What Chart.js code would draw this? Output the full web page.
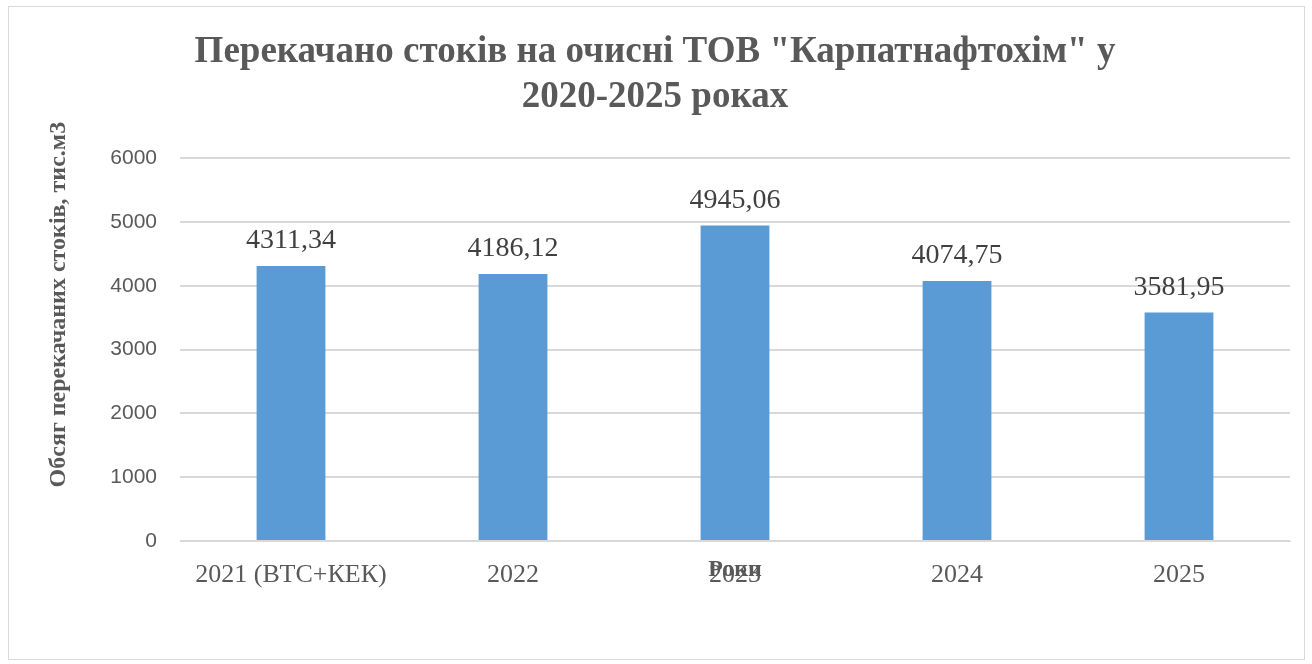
<!DOCTYPE html>
<html>
<head>
<meta charset="utf-8">
<script src="https://cdn.jsdelivr.net/npm/chart.js@4"></script>
<style>
    body { margin: 0; background: #fff; }
    #box { position: absolute; left: 8px; top: 6px; width: 1295px; height: 652px; border: 1px solid #d9d9d9; }
</style>
</head>
<body>
<div id="box"><canvas id="chart" width="1295" height="652"></canvas></div>
<script>
const categories = ['2021 (ВТС+КЕК)', '2022', '2023', '2024', '2025'];
const values = [4311.34, 4186.12, 4945.06, 4074.75, 3581.95];
const yTicks = [0, 1000, 2000, 3000, 4000, 5000, 6000];
const titleLines = ['Перекачано стоків на очисні ТОВ "Карпатнафтохім" у', '2020-2025 роках'];
const yTitle = 'Обсяг перекачаних стоків, тис.м3';
const xTitle = 'Роки';

// value labels + axis titles drawn by hand (excel places them oddly)
const extras = {
    id: 'extras',
    afterDatasetsDraw(chart) {
        const ctx = chart.ctx;
        const meta = chart.getDatasetMeta(0);
        ctx.save();
        ctx.fillStyle = '#404040';
        ctx.font = '28px "Liberation Serif"';
        ctx.textAlign = 'center';
        ctx.textBaseline = 'middle';
        meta.data.forEach(function(bar, i) {
            ctx.fillText(values[i].toFixed(2).replace('.', ','), bar.x, bar.y - 25);
        });
        ctx.restore();
    },
    afterDraw(chart) {
        const ctx = chart.ctx;
        const area = chart.chartArea;
        ctx.save();
        ctx.fillStyle = '#595959';
        ctx.font = 'bold 24px "Liberation Serif"';
        ctx.textAlign = 'center';
        ctx.textBaseline = 'middle';
        ctx.fillText(xTitle, (area.left + area.right) / 2, area.bottom + 29);
        ctx.translate(50, (area.top + area.bottom) / 2 - 45);
        ctx.rotate(-Math.PI / 2);
        ctx.fillText(yTitle, 0, 0);
        ctx.restore();
    }
};

new Chart(document.getElementById('chart'), {
    type: 'bar',
    data: {
        labels: categories,
        datasets: [{
            data: values,
            backgroundColor: '#5b9bd5',
            barPercentage: 0.31,
            categoryPercentage: 1
        }]
    },
    options: {
        responsive: false,
        animation: false,
        layout: { padding: { top: 23, left: 11, right: 14, bottom: 58 } },
        plugins: {
            legend: { display: false },
            tooltip: { enabled: false },
            title: {
                display: true,
                text: titleLines,
                color: '#595959',
                font: { family: '"Liberation Serif"', size: 37, weight: 'bold', lineHeight: 1.22 },
                padding: { top: 0, bottom: 38 }
            }
        },
        scales: {
            x: {
                grid: { display: false },
                border: { color: '#d9d9d9' },
                ticks: {
                    color: '#595959',
                    font: { family: '"Liberation Serif"', size: 26 },
                    padding: 11,
                    maxRotation: 0
                },
                afterFit(scale) { scale.height = 60; }
            },
            y: {
                min: 0,
                max: 6000,
                border: { display: false },
                grid: { color: '#d9d9d9', lineWidth: 2, drawTicks: false },
                afterBuildTicks(scale) { scale.ticks = yTicks.map(v => ({ value: v })); },
                ticks: {
                    color: '#595959',
                    font: { family: '"Liberation Sans"', size: 21 },
                    padding: 23,
                    callback: v => String(v)
                },
                afterFit(scale) { scale.width = 160; }
            }
        }
    },
    plugins: [extras]
});
</script>
</body>
</html>
